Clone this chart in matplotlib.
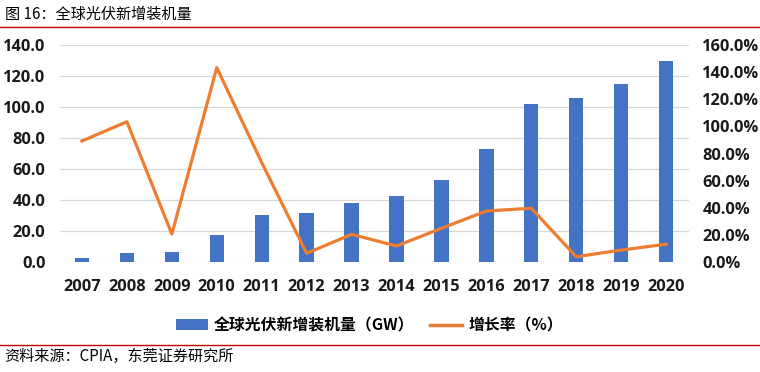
import matplotlib
matplotlib.use("Agg")
import matplotlib.pyplot as plt
from matplotlib.lines import Line2D
from matplotlib.patches import Patch
import numpy as np

plt.rcParams['font.family'] = ['Noto Sans CJK SC', 'DejaVu Sans']

years = ['2007', '2008', '2009', '2010', '2011', '2012', '2013',
         '2014', '2015', '2016', '2017', '2018', '2019', '2020']
capacity_gw = [2.6, 5.8, 6.8, 17.4, 30.3, 32.0, 38.2, 42.9, 52.8, 73.0,
               102.2, 105.9, 114.9, 129.9]
growth_pct = [89.3, 103.5, 20.8, 143.3, 73.5, 6.6, 20.6, 12.0, 25.0, 37.8,
              39.8, 4.1, 9.0, 13.3]

left_ticks = [0, 20, 40, 60, 80, 100, 120, 140]
right_ticks = [0, 20, 40, 60, 80, 100, 120, 140, 160]

bar_color = '#4472C4'
line_color = '#ED7D31'

fig = plt.figure(figsize=(7.6, 3.72), dpi=100)
ax = fig.add_axes([0.0783, 0.2949, 0.8277, 0.5841])
x = np.arange(len(years))
ax.bar(x, capacity_gw, width=0.32, color=bar_color, zorder=2)
ax.set_xlim(-0.5, len(years) - 0.5)
ax.set_ylim(0, 140)
ax.set_yticks(left_ticks)
ax.set_yticklabels([f"{v:.1f}" for v in left_ticks])
ax.set_xticks(x)
ax.set_xticklabels(years)
ax.grid(axis='y', color='#D9D9D9', linewidth=0.9, zorder=0)
ax.set_axisbelow(True)
for s in ax.spines.values():
    s.set_visible(False)
ax.tick_params(axis='both', length=0)
ax.tick_params(axis='y', pad=10)
ax.tick_params(axis='x', pad=12)

ax2 = ax.twinx()
ax2.plot(x, growth_pct, color=line_color, linewidth=2.3, zorder=3)
ax2.set_ylim(0, 160)
ax2.set_yticks(right_ticks)
ax2.set_yticklabels([f"{v:.1f}%" for v in right_ticks])
for s in ax2.spines.values():
    s.set_visible(False)
ax2.tick_params(axis='y', length=0, pad=10)

for lab in ax.get_yticklabels() + ax.get_xticklabels() + ax2.get_yticklabels():
    lab.set_fontfamily(['Open Sans', 'DejaVu Sans'])
    lab.set_fontweight('bold')
    lab.set_fontsize(11.8)
    lab.set_color('#1a1a1a')

handles = [Patch(facecolor=bar_color, edgecolor='none'),
           Line2D([0], [0], color=line_color, linewidth=2.5)]
labels = ['全球光伏新增装机量（GW）', '增长率（%）']
fig.legend(handles, labels, loc='center', bbox_to_anchor=(0.486, 0.126),
           ncol=2, frameon=False, prop={'size': 11.4, 'weight': 'bold'},
           handlelength=2.0, handletextpad=0.4, columnspacing=1.0)

fig.text(0.006, 0.962, '图 16：全球光伏新增装机量', fontsize=10.9, va='center', ha='left')
fig.add_artist(Line2D([0, 1], [1 - 27 / 372, 1 - 27 / 372], color='#C00000', linewidth=1.0))
fig.add_artist(Line2D([0, 1], [1 - 345 / 372, 1 - 345 / 372], color='#C00000', linewidth=1.0))
fig.text(0.006, 1 - 356 / 372, '资料来源：CPIA，东莞证券研究所', fontsize=10.9, va='center', ha='left')

fig.savefig('out.png', dpi=100)
